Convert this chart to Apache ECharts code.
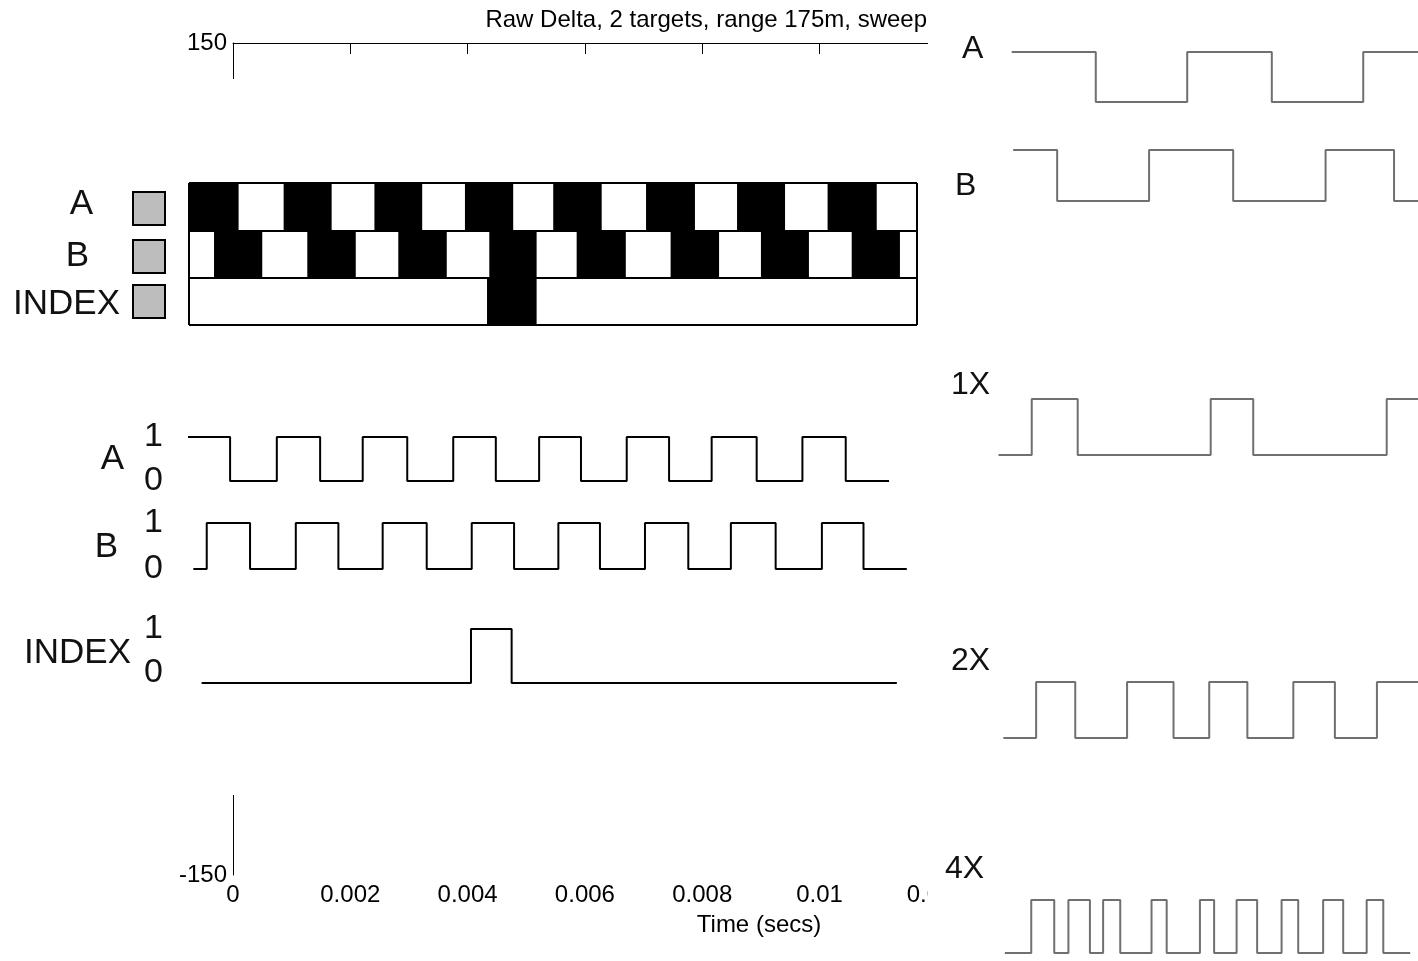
<!DOCTYPE html>
<html>
<head>
<meta charset="utf-8">
<script src="https://cdn.jsdelivr.net/npm/echarts@6/dist/echarts.min.js"></script>
<style>
  html, body { margin: 0; padding: 0; background: #fff; }
  #chart { width: 1418px; height: 961px; }
</style>
</head>
<body>
<div id="chart"></div>
<script>
// ---- Main delta plot (time in seconds) ----
const titleText = 'Raw Delta, 2 targets, range 175m, sweep';
const timeMin = 0, timeMax = 0.012, timeStep = 0.002;
const deltaMin = -150, deltaMax = 150;

// ---- Encoder disc tracks: black stripes, position in counts ----
const discRows = ['INDEX', 'B', 'A'];
const discA = [[0, 2.18], [4.16, 6.27], [8.15, 10.25], [12.13, 14.25], [16.01, 18.14], [20.09, 22.24], [24.09, 26.2], [28.07, 30.23]];
const discB = [[1.10, 3.22], [5.20, 7.33], [9.20, 11.33], [13.20, 15.28], [17.04, 19.20], [21.17, 23.30], [25.14, 27.25], [29.13, 31.25]];
const discIndex = [[13.10, 15.28]];
const discLength = 32;

// ---- Channel outputs: [electrical degrees, level] at each edge ----
const waveA = [[0, 1], [173, 0], [365, 1], [543, 0], [718, 1], [901, 0], [1090, 1], [1265, 0], [1443, 1], [1615, 0], [1803, 1], [1977, 0], [2152, 1], [2337, 0], [2525, 1], [2703, 0], [2881, 0]];
const waveB = [[22, 0], [77, 1], [255, 0], [443, 1], [618, 0], [800, 1], [981, 0], [1166, 1], [1340, 0], [1522, 1], [1693, 0], [1878, 1], [2056, 0], [2231, 1], [2415, 0], [2605, 1], [2776, 0], [2954, 0]];
const waveIndex = [[56, 0], [1163, 1], [1330, 0], [2913, 0]];
const waveSpan = 3000;

// ---- Decoding detail: A, B and the 1X / 2X / 4X counts ----
const detailA = [[28, 1], [200, 0], [387, 1], [560, 0], [747, 1], [859, 1]];
const detailB = [[31, 1], [121, 0], [309, 1], [481, 0], [670, 1], [810, 0], [859, 0]];
const detail1X = [[1, 0], [69, 1], [163, 0], [435, 1], [522, 0], [795, 1], [859, 1]];
const detail2X = [[11, 0], [78, 1], [158, 0], [264, 1], [359, 0], [432, 1], [510, 0], [604, 1], [689, 0], [775, 1], [859, 1]];
const detail4X = [[14, 0], [68, 1], [115, 0], [144, 1], [188, 0], [215, 1], [250, 0], [314, 1], [345, 0], [413, 1], [442, 0], [488, 1], [530, 0], [580, 1], [614, 0], [665, 1], [706, 0], [754, 1], [788, 0], [843, 0]];
const detailSpan = 859;

const FONT = '"Liberation Sans", Arial, sans-serif';

const chart = echarts.init(document.getElementById('chart'), null, { renderer: 'canvas' });

// grids: 0 main, 1 disc, 2-4 left waveforms, 5-9 detail waveforms
const grids = [
  { left: 233, top: 43, width: 703.8, height: 832 },
  { left: 189, top: 183, width: 728, height: 142 },
  { left: 188, top: 437, width: 730, height: 44 },
  { left: 188, top: 523, width: 730, height: 46 },
  { left: 188, top: 629, width: 730, height: 54 },
  { left: 998, top: 52, right: 0, height: 50 },
  { left: 998, top: 150, right: 0, height: 51 },
  { left: 998, top: 399, right: 0, height: 56 },
  { left: 998, top: 682, right: 0, height: 56 },
  { left: 998, top: 900, right: 0, height: 53 }
];

const hiddenX = (gridIndex, max) => ({
  gridIndex, type: 'value', min: 0, max, show: false
});
const hiddenY = (gridIndex) => ({
  gridIndex, type: 'value', min: 0, max: 1, show: false
});
const levelY = (gridIndex, rich) => ({
  gridIndex, type: 'value', min: 0, max: 1, interval: 1, z: 11,
  axisLine: { show: false }, axisTick: { show: false }, splitLine: { show: false },
  axisLabel: Object.assign({
    fontSize: 34, color: '#111', fontFamily: FONT, margin: 25
  }, rich || {})
});

const xAxes = [
  {
    gridIndex: 0, type: 'value', position: 'bottom', min: timeMin, max: timeMax, interval: timeStep,
    axisLine: { lineStyle: { color: '#000', width: 1 } },
    axisTick: { inside: true, length: 11, lineStyle: { color: '#000' } },
    axisLabel: { fontSize: 24, color: '#000', fontFamily: FONT, margin: 8 },
    splitLine: { show: false }
  },
  {
    gridIndex: 0, type: 'value', position: 'top', min: timeMin, max: timeMax, interval: timeStep,
    axisLine: { lineStyle: { color: '#000', width: 1 } },
    axisTick: { inside: true, length: 11, lineStyle: { color: '#000' } },
    axisLabel: { show: false },
    splitLine: { show: false }
  },
  {
    gridIndex: 1, type: 'value', min: 0, max: discLength, interval: discLength, z: 11,
    axisLine: { show: false }, axisTick: { show: false }, axisLabel: { show: false },
    splitLine: { show: true, showMinLine: true, showMaxLine: true, lineStyle: { color: '#000', width: 2 } }
  },
  hiddenX(2, waveSpan), hiddenX(3, waveSpan), hiddenX(4, waveSpan),
  hiddenX(5, detailSpan), hiddenX(6, detailSpan), hiddenX(7, detailSpan), hiddenX(8, detailSpan), hiddenX(9, detailSpan)
];

const yAxes = [
  {
    gridIndex: 0, type: 'value', min: deltaMin, max: deltaMax, interval: 150,
    axisLine: { show: true, lineStyle: { color: '#000', width: 1 } },
    axisTick: { show: false },
    axisLabel: {
      fontSize: 24, color: '#000', fontFamily: FONT, margin: 6,
      formatter: (v) => (v === 0 ? '' : String(v))
    },
    splitLine: { show: false }
  },
  {
    gridIndex: 1, type: 'value', min: 0, max: discRows.length, interval: 1, z: 11,
    axisLine: { show: false }, axisTick: { show: false }, axisLabel: { show: false },
    splitLine: { show: true, showMinLine: true, showMaxLine: true, lineStyle: { color: '#000', width: 2 } }
  },
  levelY(2), levelY(3),
  levelY(4, {
    formatter: (v) => (v === 0 ? '{lo|0}' : '{hi|1}'),
    rich: {
      lo: { fontSize: 34, color: '#111', fontFamily: FONT, padding: [0, 0, 20, 0] },
      hi: { fontSize: 34, color: '#111', fontFamily: FONT }
    }
  }),
  hiddenY(5), hiddenY(6), hiddenY(7), hiddenY(8), hiddenY(9)
];

// disc stripes as [start, end, row]
const rowIndex = (name) => discRows.indexOf(name);
const discData = []
  .concat(discA.map((s) => [s[0], s[1], rowIndex('A')]))
  .concat(discB.map((s) => [s[0], s[1], rowIndex('B')]))
  .concat(discIndex.map((s) => [s[0], s[1], rowIndex('INDEX')]));

const stepLine = (axisIndex, data, color) => ({
  type: 'line', xAxisIndex: axisIndex, yAxisIndex: axisIndex - 1, data,
  step: 'end', symbol: 'none', clip: false, z: 10, silent: true,
  lineStyle: { color, width: 2 }
});

const series = [
  // keeps the main axes active
  { type: 'line', xAxisIndex: 0, yAxisIndex: 0, data: [], symbol: 'none' },
  {
    type: 'custom', xAxisIndex: 2, yAxisIndex: 1, z: 10, silent: true,
    data: discData,
    encode: { x: [0, 1], y: 2 },
    renderItem: (params, api) => {
      const a = api.coord([api.value(0), api.value(2) + 1]);
      const b = api.coord([api.value(1), api.value(2)]);
      return {
        type: 'rect',
        shape: { x: a[0], y: a[1], width: b[0] - a[0], height: b[1] - a[1] },
        style: { fill: '#000' }
      };
    }
  },
  stepLine(3, waveA, '#000'),
  stepLine(4, waveB, '#000'),
  stepLine(5, waveIndex, '#000'),
  stepLine(6, detailA, '#707070'),
  stepLine(7, detailB, '#707070'),
  stepLine(8, detail1X, '#707070'),
  stepLine(9, detail2X, '#707070'),
  stepLine(10, detail4X, '#707070')
];

const label = (text, x, y, size, align) => ({
  type: 'text', x, y, z: 12, silent: true,
  style: { text, fontSize: size, fontFamily: FONT, fill: '#111', align: align || 'right', verticalAlign: 'middle' }
});
const box = (y) => ({
  type: 'rect', z: 12, silent: true,
  shape: { x: 133, y, width: 32, height: 33 },
  style: { fill: '#bdbdbd', stroke: '#000', lineWidth: 2 }
});

const graphics = [
  // blank areas over the main axes
  { type: 'rect', z: 5, silent: true, shape: { x: 0, y: 79, width: 928, height: 716 }, style: { fill: '#fff' } },
  { type: 'rect', z: 5, silent: true, shape: { x: 928, y: 0, width: 490, height: 961 }, style: { fill: '#fff' } },
  {
    type: 'text', x: 927, y: 20, z: 6, silent: true,
    style: { text: titleText, fontSize: 24, fontFamily: FONT, fill: '#000', align: 'right', verticalAlign: 'middle' }
  },
  {
    type: 'text', x: 759, y: 925, z: 6, silent: true,
    style: { text: 'Time (secs)', fontSize: 24, fontFamily: FONT, fill: '#000', align: 'center', verticalAlign: 'middle' }
  },
  // disc legend
  label('A', 93, 204, 35), label('B', 89, 256, 35), label('INDEX', 120, 304, 35),
  box(192), box(240), box(285),
  // channel names
  label('A', 124, 459, 35), label('B', 118, 547, 35), label('INDEX', 131, 653, 35),
  // decoding detail names
  label('A', 962, 49, 32, 'left'), label('B', 955, 186, 32, 'left'),
  label('1X', 951, 385, 32, 'left'), label('2X', 951, 661, 32, 'left'), label('4X', 945, 869, 32, 'left')
];

chart.setOption({
  animation: false,
  backgroundColor: '#fff',
  grid: grids,
  xAxis: xAxes,
  yAxis: yAxes,
  series,
  graphic: { elements: graphics }
});
</script>
</body>
</html>
